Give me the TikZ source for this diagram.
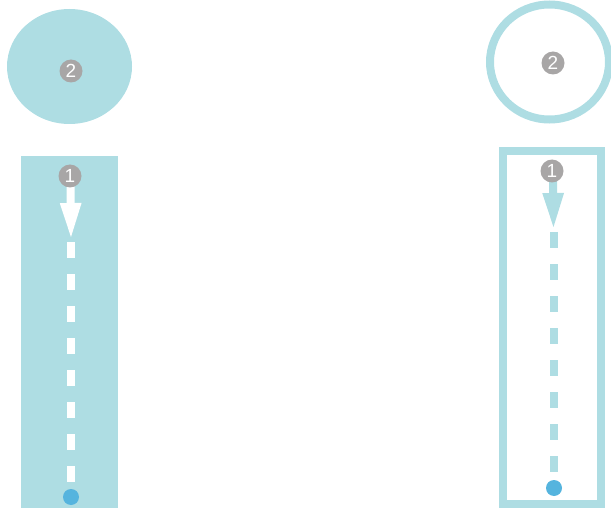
\documentclass[tikz,border=0pt]{standalone}
\usepackage{fontspec}
\setmainfont{Liberation Sans}
\usetikzlibrary{arrows.meta,shapes.geometric}
\definecolor{lblue}{RGB}{174,221,227}
\definecolor{bgray}{RGB}{168,166,166}
\definecolor{dblue}{RGB}{85,180,222}
\tikzset{
  badge/.style={circle,fill=bgray,text=white,inner sep=0pt,minimum size=23pt,font=\fontsize{19}{19}\selectfont},
  enddot/.style={circle,fill=dblue,inner sep=0pt,minimum size=16pt},
  flowarrow/.style={line width=8pt,-{Triangle[width=19pt,length=37pt]}},
}
\begin{document}
\begin{tikzpicture}[x=1pt,y=-1pt]
\useasboundingbox (0,0) rectangle (611,508);
\clip (0,0) rectangle (611,508);
% left (filled)
\node[ellipse,fill=lblue,minimum width=125pt,minimum height=115pt,inner sep=0pt] (elL) at (69.5,66.5) {};
\node[rectangle,fill=lblue,minimum width=97pt,minimum height=352pt,inner sep=0pt,anchor=north west] (rcL) at (21,156) {};
\coordinate (tipL) at (71,240);
\coordinate (dsL) at (71,242);
\coordinate (deL) at (71,482);
\node[enddot] (dotL) at (71,497) {};
\draw[flowarrow,white] (70.5,180) -- (tipL);
\draw[white,line width=8pt,dash pattern=on 16pt off 16pt] (dsL) -- (deL);
\node[badge] (b2L) at (71,71) {2};
\node[badge] (b1L) at (70,176) {1};
% right (outlined)
\node[ellipse,draw=lblue,line width=8pt,minimum width=119pt,minimum height=115pt,inner sep=0pt] (elR) at (549.5,62) {};
\draw[lblue,line width=8pt] (503,151) rectangle (601,504);
\coordinate (tipR) at (553.5,230);
\coordinate (dsR) at (553.5,232);
\coordinate (deR) at (553.5,471.5);
\node[enddot] (dotR) at (554,488) {};
\draw[flowarrow,lblue] (553,175) -- (tipR);
\draw[lblue,line width=8pt,dash pattern=on 15.5pt off 16.5pt] (dsR) -- (deR);
\node[badge] (b2R) at (553,63) {2};
\node[badge] (b1R) at (552,171) {1};
\end{tikzpicture}
\end{document}
